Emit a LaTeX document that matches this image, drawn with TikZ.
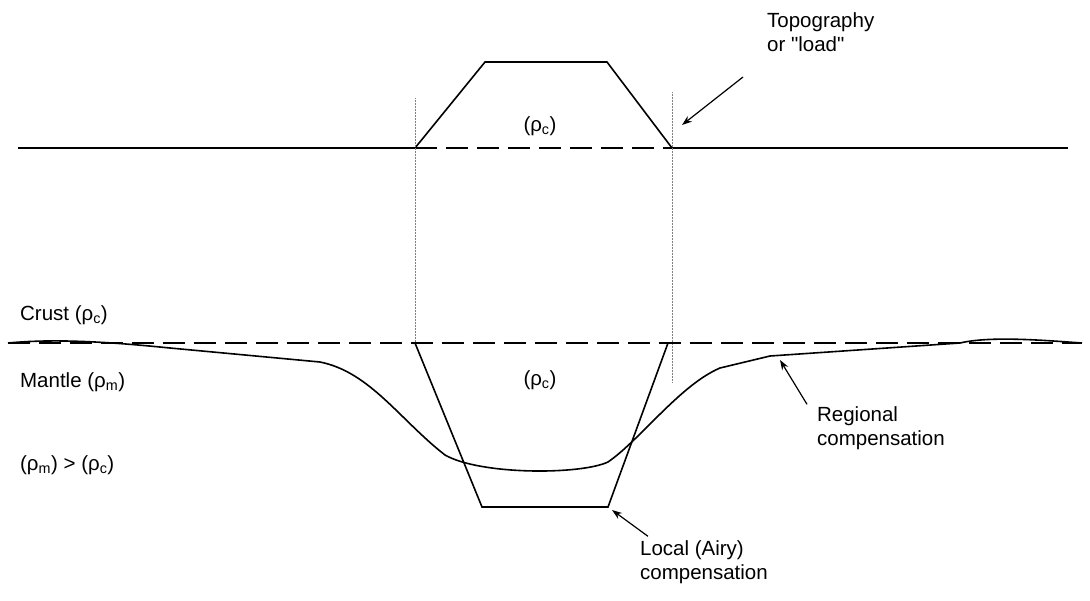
\documentclass[tikz,border=0pt]{standalone}
\usepackage{fontspec}
\setmainfont{Liberation Sans}
\usetikzlibrary{arrows.meta}
\begin{document}
\begin{tikzpicture}[x=1pt,y=-1pt,line width=1.6pt,
    lbl/.style={font=\fontsize{20.5}{24}\selectfont,align=left},
    dashline/.style={dash pattern=on 22pt off 9pt},
    guide/.style={line width=0.5pt,densely dotted,gray},
    pointer/.style={-{Stealth[length=10pt,width=7pt]},line width=1.2pt}]
    \useasboundingbox (0,0) rectangle (1090,600);

    % Topographie
    \draw (18,148) -- (415,148);
    \draw (672,148) -- (1068,148);
    \draw[dashline] (415,148) -- (672,148);
    \draw (415,148) -- (485,62) -- (607,62) -- (672,148);
    \node[lbl] (rhotop) at (540,126) {(ρ\textsubscript{c})};

    % Hilfslinien
    \draw[guide] (415,98) -- (415,345);
    \draw[guide] (672,92) -- (672,382);

    % Krustenbasis
    \draw[dashline] (8,343) -- (1082,343);

    % Lokale Kompensation
    \draw (415,343) -- (482,507) -- (608,507) -- (668,343);
    \node[lbl] (rhoroot) at (540,380) {(ρ\textsubscript{c})};

    % Regionale Kompensation
    \draw (8,343) .. controls (60,338) and (120,343) .. (170,348)
        -- (320,362) .. controls (370,372) and (400,420) .. (445,455)
        .. controls (480,475) and (580,475) .. (608,462)
        .. controls (640,440) and (680,385) .. (720,368)
        -- (770,356) -- (960,343) .. controls (990,336) and (1040,340) .. (1082,343);

    % Beschriftungen
    \node[lbl,anchor=west] (crust) at (16,315) {Crust (ρ\textsubscript{c})};
    \node[lbl,anchor=west] (mantle) at (16,382) {Mantle (ρ\textsubscript{m})};
    \node[lbl,anchor=west] (ineq) at (16,465) {(ρ\textsubscript{m}) > (ρ\textsubscript{c})};
    \node[lbl,anchor=west] (topo) at (763,32) {Topography\\or \textquotedbl load\textquotedbl};
    \node[lbl,anchor=west] (regional) at (813,428) {Regional\\compensation};
    \node[lbl,anchor=west] (local) at (636,562) {Local (Airy)\\compensation};

    % Pfeile
    \coordinate (topotip) at (682,125);
    \coordinate (regtip) at (780,360);
    \coordinate (loctip) at (612,510);
    \draw[pointer] (topo.west) ++(-20,45) -- (topotip);
    \draw[pointer] (regional.north west) ++(-6,2) -- (regtip);
    \draw[pointer] (local.north west) ++(12,0) -- (loctip);
\end{tikzpicture}
\end{document}
